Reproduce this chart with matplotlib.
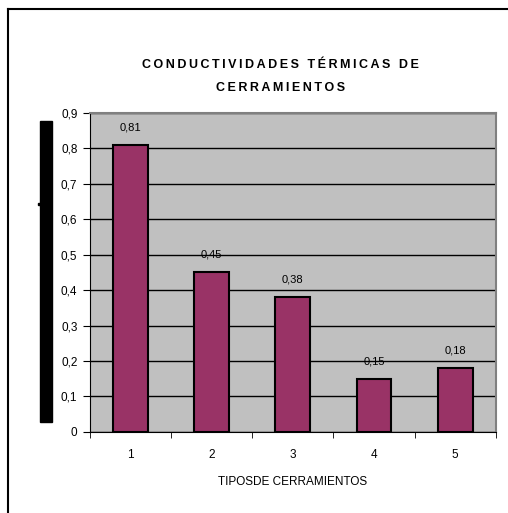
import matplotlib.pyplot as plt
from matplotlib.lines import Line2D
from matplotlib.patches import Rectangle
from matplotlib.ticker import FixedLocator, NullFormatter

# Datos
tipos = ["1", "2", "3", "4", "5"]
conductividad = [0.81, 0.45, 0.38, 0.15, 0.18]
yticks = [0, 0.1, 0.2, 0.3, 0.4, 0.5, 0.6, 0.7, 0.8, 0.9]
titulo = ["CONDUCTIVIDADES TÉRMICAS DE", "CERRAMIENTOS"]

plt.rcParams["font.family"] = ["Liberation Sans", "DejaVu Sans"]


def espaciado(s):
    # separa las letras con un espacio fino
    return "\u2009".join(s)


fig = plt.figure(figsize=(5.08, 5.13), dpi=100)
ax = fig.add_axes([0.177, 0.158, 0.799, 0.622])
ax.set_facecolor("#C0C0C0")

x = list(range(len(tipos)))
ax.bar(x, conductividad, width=0.43, color="#993366",
       edgecolor="black", linewidth=1.5, zorder=3)

for xi, v in zip(x, conductividad):
    ax.text(xi, v + 0.035, f"{v:.2f}".replace(".", ","),
            ha="center", va="bottom", fontsize=8)

ax.set_xlim(-0.5, len(tipos) - 0.5)
ax.set_ylim(0, 0.9)
ax.set_yticks(yticks)
ax.set_yticklabels([f"{t:g}".replace(".", ",") for t in yticks], fontsize=8.5)
ax.yaxis.grid(True, color="black", linewidth=1, zorder=0)
ax.set_axisbelow(True)

# marcas entre categorias y etiquetas centradas
ax.set_xticks(x)
ax.set_xticklabels(tipos, fontsize=8.5)
ax.tick_params(axis="x", which="major", length=0, pad=12)
ax.xaxis.set_minor_locator(FixedLocator([i - 0.5 for i in range(len(tipos) + 1)]))
ax.xaxis.set_minor_formatter(NullFormatter())
ax.tick_params(axis="x", which="minor", length=4, color="black")
ax.tick_params(axis="y", length=5, pad=4, color="black")

for s in ["top", "right"]:
    ax.spines[s].set_color("#808080")
    ax.spines[s].set_linewidth(1.5)
ax.spines["left"].set_color("black")
ax.spines["bottom"].set_color("black")

ax.set_xlabel("TIPOSDE CERRAMIENTOS", fontsize=8.5, labelpad=11)

fig.text(0.552, 1 - 65 / 513, espaciado(titulo[0]),
         ha="center", va="center", fontsize=9, fontweight="bold")
fig.text(0.552, 1 - 88 / 513, espaciado(titulo[1]),
         ha="center", va="center", fontsize=9, fontweight="bold")

# bloque negro a la izquierda
fig.patches.append(Rectangle((0.0787, 0.1774), 0.0237, 0.587,
                             transform=fig.transFigure, color="black"))
fig.patches.append(Rectangle((0.075, 0.600), 0.004, 0.004,
                             transform=fig.transFigure, color="black"))

# marco exterior
fig.lines.append(Line2D([0.0157, 1.0], [0.9825, 0.9825],
                        transform=fig.transFigure, color="black", linewidth=1.5))
fig.lines.append(Line2D([0.0157, 0.0157], [0.0, 0.9825],
                        transform=fig.transFigure, color="black", linewidth=1.5))

fig.savefig("out.png", dpi=100)
